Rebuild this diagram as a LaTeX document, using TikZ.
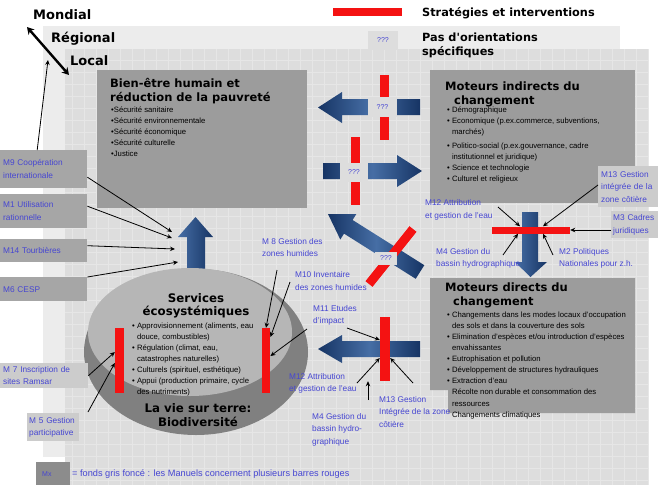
\documentclass[tikz,border=0pt]{standalone}
\usepackage{fontspec}
\setmainfont{Liberation Sans}
\newfontfamily\headfont{DejaVu Sans}
\usetikzlibrary{arrows.meta}

\definecolor{regionalgrey}{RGB}{236,236,236}
\definecolor{localgrey}{RGB}{221,221,221}
\definecolor{gridgrey}{RGB}{230,230,230}
\definecolor{boxgrey}{RGB}{156,156,156}
\definecolor{mgrey}{RGB}{166,166,166}
\definecolor{mlight}{RGB}{204,204,204}
\definecolor{mdark}{RGB}{140,140,140}
\definecolor{labelblue}{RGB}{70,70,210}
\definecolor{barred}{RGB}{244,18,18}
\definecolor{navy}{RGB}{22,52,100}
\definecolor{midblue}{RGB}{70,110,165}
\definecolor{disktop}{RGB}{182,182,182}
\definecolor{diskside}{RGB}{128,128,128}

\begin{document}
\begin{tikzpicture}[
        x=1pt, y=-1pt,
        >={Stealth[length=5pt, width=4.5pt]},
        leveltext/.style={anchor=west, inner sep=0pt,
            font={\headfont\bfseries\fontsize{13}{16}\selectfont}},
        headtext/.style={anchor=north west, inner sep=0pt, align=left,
            font={\headfont\bfseries\fontsize{11.5}{14}\selectfont}},
        disktext/.style={inner sep=0pt, align=center,
            font={\headfont\bfseries\fontsize{11.8}{13.5}\selectfont}},
        smalltext/.style={anchor=north west, inner sep=0pt, align=left,
            font=\fontsize{7.7}{11.1}\selectfont},
        mlabel/.style={anchor=north west, inner sep=0pt, align=left,
            text=labelblue, font=\fontsize{8.3}{12.5}\selectfont},
        mbox/.style={mlabel, fill=mgrey, inner xsep=3pt},
        redbar/.style={fill=barred, inner sep=0pt},
        qmark/.style={fill=localgrey, inner sep=0pt, text=labelblue,
            font=\fontsize{7}{8}\selectfont},
        bluearrow/.style={left color=navy, right color=navy, middle color=midblue},
        pointer/.style={->, line width=0.8pt}
    ]

    \useasboundingbox (0,0) rectangle (666,488);

    % Panels
    \fill[regionalgrey] (43,26) rectangle (620,457);
    \fill[localgrey] (65,49) rectangle (648,485);
    \draw[gridgrey, line width=0.4pt, step=12pt] (65,485) grid (648,49);

    % Boxes
    \fill[boxgrey] (97,70) rectangle (307,208);
    \fill[boxgrey] (430,70) rectangle (635,203);
    \fill[boxgrey] (430,278) -- (635,278) -- (635,413) -- (448,413) -- (448,390) -- (430,390) -- cycle;

    % Blue arrows
    \shade[left color=midblue, right color=navy] (187,275) -- (187,237) -- (178,237) -- (195.5,217) -- (213,237) -- (205,237) -- (205,275) -- cycle;
    \shade[bluearrow] (420,99) -- (342,99) -- (342,92) -- (318,107.5) -- (342,123) -- (342,115) -- (420,115) -- cycle;
    \shade[bluearrow] (323,163) -- (397,163) -- (397,155) -- (422,171) -- (397,187) -- (397,179) -- (323,179) -- cycle;
    \shade[bluearrow] (424.3,265.2) -- (352.6,220) -- (356.3,214.1) -- (328,214) -- (340.3,239.5) -- (344,233.6) -- (415.7,278.8) -- cycle;
    \shade[left color=midblue, right color=navy] (522,212) -- (538,212) -- (538,262) -- (547,262) -- (530.5,277) -- (515,262) -- (522,262) -- cycle;
    \shade[bluearrow] (420,341) -- (342,341) -- (342,335) -- (318,349) -- (342,363) -- (342,357) -- (420,357) -- cycle;

    % Disk
    \fill[diskside] (196,352) ellipse [x radius=112pt, y radius=83pt];
    \fill[disktop] (190,332) ellipse [x radius=102pt, y radius=64pt];

    % Red bars
    \node[redbar, minimum width=69pt, minimum height=8pt] (legendbar) at (367.5,12) {};
    \node[redbar, minimum width=9pt, minimum height=65pt] (barA) at (384.5,107.5) {};
    \node[redbar, minimum width=9pt, minimum height=68pt] (barB) at (355.5,171) {};
    \draw[barred, line width=9pt] (413,229) -- (369,284);
    \node[redbar, minimum width=78pt, minimum height=7pt] (barH) at (531,230) {};
    \node[redbar, minimum width=10pt, minimum height=64pt] (barM) at (385,349) {};
    \node[redbar, minimum width=9pt, minimum height=65pt] (barL) at (119.5,360.5) {};
    \node[redbar, minimum width=8.5pt, minimum height=65pt] (barR) at (266,360.5) {};

    % ???
    \node[qmark, minimum width=30pt, minimum height=19pt] (qtab) at (383,40) {???};
    \node[qmark, minimum width=29pt, minimum height=20pt] (qA) at (382.5,107) {???};
    \node[qmark, minimum width=28pt, minimum height=19pt] (qB) at (354,172) {???};
    \node[qmark, minimum width=22pt, minimum height=13pt] (qC) at (386,258) {???};

    % Levels and legend
    \node[leveltext] (mondial) at (33,15) {Mondial};
    \node[leveltext] (regional) at (51,39) {Régional};
    \node[leveltext] (local) at (70,61) {Local};
    \coordinate (mondialpt) at (27,27);
    \coordinate (localpt) at (69,75);
    \draw[{Stealth[length=7pt,width=8pt]}-{Stealth[length=7pt,width=8pt]}, line width=2.4pt] (mondialpt) -- (localpt);
    \node[leveltext, font={\headfont\bfseries\fontsize{11.3}{13}\selectfont}] (legendtext) at (422,13) {Stratégies et interventions};
    \node[headtext, font={\headfont\bfseries\fontsize{11.3}{14}\selectfont}] (noorient) at (422,32.5) {Pas d'orientations\\spécifiques};

    % Box texts
    \node[headtext] (bientitle) at (110,78.5) {Bien-être humain et\\réduction de la pauvreté};
    \node[smalltext] (bienitems) at (111,106.5) {\textbullet Sécurité sanitaire\\\textbullet Sécurité environnementale\\\textbullet Sécurité économique\\\textbullet Sécurité culturelle\\\textbullet Justice};
    \node[headtext] (indtitle) at (445,81.5) {Moteurs indirects du\\\hspace*{9pt}changement};
    \node[smalltext] (inditems) at (447,106.5) {\textbullet\ Démographique\\\textbullet\ Economique (p.ex.commerce, subventions,\\\hspace*{4.8pt}marchés)\\[3pt]\textbullet\ Politico-social (p.ex.gouvernance, cadre\\\hspace*{4.8pt}institutionnel et juridique)\\\textbullet\ Science et technologie\\\textbullet\ Culturel et religieux};
    \node[headtext] (dirtitle) at (445,283) {Moteurs directs du\\\hspace*{8pt}changement};
    \node[smalltext] (diritems) at (447,311.5) {\textbullet\ Changements dans les modes locaux d'occupation\\\hspace*{4.8pt}des sols et dans la couverture des sols\\\textbullet\ Elimination d'espèces et/ou introduction d'espèces\\\hspace*{4.8pt}envahissantes\\\textbullet\ Eutrophisation et pollution\\\textbullet\ Développement de structures hydrauliques\\\textbullet\ Extraction d'eau\\\hspace*{4.8pt}Récolte non durable et consommation des\\\hspace*{4.8pt}ressources\\\hspace*{4.8pt}Changements climatiques};
    \node[disktext] (disktitle) at (196,306) {Services\\écosystémiques};
    \node[smalltext] (diskitems) at (132,322.5) {\textbullet\ Approvisionnement (aliments, eau\\\hspace*{4.8pt}douce, combustibles)\\\textbullet\ Régulation (climat, eau,\\\hspace*{4.8pt}catastrophes naturelles)\\\textbullet\ Culturels (spirituel, esthétique)\\\textbullet\ Appui (production primaire, cycle\\\hspace*{4.8pt}des nutriments)};
    \node[disktext] (biodiv) at (198,415) {La vie sur terre:\\Biodiversité};

    % Manuels, left
    \node[mbox, text width=81pt, minimum height=38pt] (m9) at (0,150) {M9 Coopération\\internationale};
    \node[mbox, text width=81pt, minimum height=34pt] (m1) at (0,194) {M1 Utilisation\\rationnelle};
    \node[mbox, text width=81pt, minimum height=23pt] (m14) at (0,239) {M14 Tourbières};
    \node[mbox, text width=81pt, minimum height=24pt] (m6) at (0,277) {M6 CESP};
    \node[mbox, fill=mlight, text width=82pt, minimum height=25pt] (m7) at (0,363) {M 7 Inscription de\\sites Ramsar};
    \node[mbox, fill=mlight, inner xsep=2pt, text width=48pt, minimum height=28pt] (m5) at (27,413) {M 5 Gestion\\participative};
    \node[mbox, fill=mdark, inner xsep=6pt, text width=22pt, minimum height=23pt, font=\fontsize{7}{8}\selectfont] (mx) at (36,462) {Mx};
    \node[mlabel, anchor=west, font=\fontsize{9.2}{11}\selectfont] (mxnote) at (72,474) {= fonds gris foncé : les Manuels concernent plusieurs barres rouges};

    % Manuels, middle and right
    \node[mlabel] (m8) at (262,238) {M 8 Gestion des\\zones humides};
    \node[mlabel] (m10) at (295,271.5) {M10 Inventaire\\des zones humides};
    \node[mlabel] (m11) at (313,305) {M11 Etudes\\d'impact};
    \node[mlabel] (m12low) at (289,373) {M12 Attribution\\et gestion de l'eau};
    \node[mlabel] (m4low) at (312,413) {M4 Gestion du\\bassin hydro-\\graphique};
    \node[mlabel] (m13low) at (379,396) {M13 Gestion\\Intégrée de la zone\\côtière};
    \node[mlabel] (m12up) at (425,199.5) {M12 Attribution\\et gestion de l'eau};
    \node[mbox, fill=mlight, text width=54pt, minimum height=41pt] (m13up) at (598,166) {M13 Gestion\\intégrée de la\\zone côtière};
    \node[mbox, fill=mlight, inner xsep=2pt, text width=43pt, minimum height=27pt] (m3) at (611,211) {M3 Cadres\\juridiques};
    \node[mlabel] (m4up) at (436,248) {M4 Gestion du\\bassin hydrographique};
    \node[mlabel] (m2) at (559,248) {M2 Politiques\\Nationales pour z.h.};

    % Pointers
    \coordinate (localcorner) at (48,60);
    \coordinate (upIn1) at (172,232);
    \coordinate (upIn2) at (172,238);
    \coordinate (upIn3) at (175,249);
    \coordinate (upIn4) at (178,262);
    \coordinate (m5tail) at (88,412);
    \coordinate (m8tail) at (277,270);
    \coordinate (m10tail) at (290,282);
    \coordinate (m11tail) at (307,329);
    \coordinate (m11lowtail) at (347,328);
    \coordinate (m12lowtail) at (357,383);
    \coordinate (m4lowtail) at (368,400);
    \coordinate (m13lowtail) at (413,383);
    \coordinate (m12uptail) at (498,207);
    \coordinate (m13uptail) at (598,185);
    \coordinate (m4uptail) at (503,255);
    \coordinate (m2tail) at (553,255);

    \draw[pointer] ([xshift=-6.5pt]m9.north) -- (localcorner);
    \draw[pointer] ([yshift=-8pt]m9.east) -- (upIn1);
    \draw[pointer] ([yshift=5pt]m1.east) -- (upIn2);
    \draw[pointer] ([yshift=5pt]m14.east) -- (upIn3);
    \draw[pointer] (m6.north east) -- (upIn4);
    \draw[pointer] (m7.east) -- (barL.west |- 0,352);
    \draw[pointer] (m5tail) -- (barL.west |- 0,363);
    \draw[pointer] (m8tail) -- (barR.north);
    \draw[pointer] (m10tail) -- (barR.east |- 0,337);
    \draw[pointer] (m11tail) -- (barR.east |- 0,356);
    \draw[pointer] (m11lowtail) -- (barM.west |- 0,340);
    \draw[pointer] (m12lowtail) -- (barM.west |- 0,358);
    \draw[pointer] (m4lowtail) -- (barM.south -| 368,0);
    \draw[pointer] (m13lowtail) -- (barM.east |- 0,358);
    \draw[pointer] (m12uptail) -- (barH.north -| 520,0);
    \draw[pointer] (m13uptail) -- (barH.north -| 543,0);
    \draw[pointer] (m3.west |- barH.east) -- (barH.east);
    \draw[pointer] (m4uptail) -- (barH.south -| 518,0);
    \draw[pointer] (m2tail) -- (barH.south -| 543,0);

\end{tikzpicture}
\end{document}
